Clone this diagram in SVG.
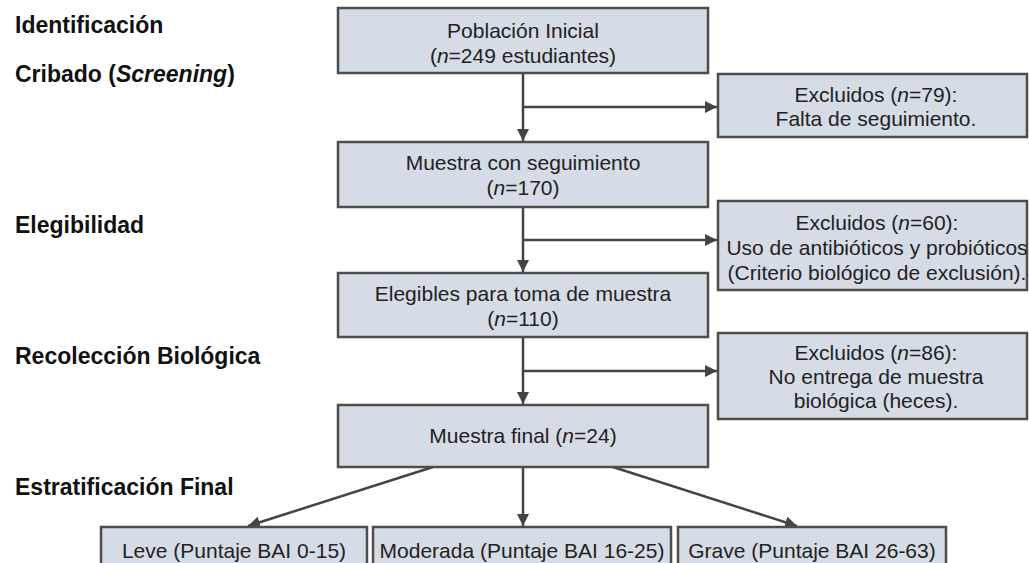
<svg xmlns="http://www.w3.org/2000/svg" width="1029" height="563" viewBox="0 0 1029 563">
<defs>
<style>
.box{fill:#d5dce5;stroke:#4d4d4d;stroke-width:2.5}
.t{font-family:"Liberation Sans",Arial,sans-serif;font-size:21px;fill:#222;text-anchor:middle}
.lbl{font-family:"Liberation Sans",Arial,sans-serif;font-size:23px;font-weight:bold;fill:#111}
.c{stroke:#444;stroke-width:2.5;fill:none}
</style>
<marker id="ah" viewBox="0 0 10 10" refX="10" refY="5" markerWidth="12" markerHeight="12" markerUnits="userSpaceOnUse" orient="auto">
<path d="M0,0 L10,5 L0,10 Z" fill="#444"/>
</marker>
</defs>
<rect width="1029" height="563" fill="#ffffff"/>

<g id="labels">
<text class="lbl" x="15" y="33">Identificación</text>
<text class="lbl" x="15" y="82">Cribado (<tspan font-style="italic">Screening</tspan>)</text>
<text class="lbl" x="15" y="233">Elegibilidad</text>
<text class="lbl" x="15" y="364">Recolección Biológica</text>
<text class="lbl" x="15" y="495">Estratificación Final</text>
</g>

<g id="connectors">
<line class="c" x1="523" y1="73" x2="523" y2="141" marker-end="url(#ah)"/>
<line class="c" x1="523" y1="107" x2="717" y2="107" marker-end="url(#ah)"/>
<line class="c" x1="523" y1="207" x2="523" y2="272" marker-end="url(#ah)"/>
<line class="c" x1="523" y1="240" x2="717" y2="240" marker-end="url(#ah)"/>
<line class="c" x1="523" y1="337" x2="523" y2="404" marker-end="url(#ah)"/>
<line class="c" x1="523" y1="371" x2="717" y2="371" marker-end="url(#ah)"/>
<line class="c" x1="433" y1="467" x2="248" y2="526" marker-end="url(#ah)"/>
<line class="c" x1="523" y1="467" x2="523" y2="526" marker-end="url(#ah)"/>
<line class="c" x1="613" y1="467" x2="797" y2="526" marker-end="url(#ah)"/>
</g>

<g id="n1">
<rect class="box" x="338" y="8" width="370" height="65"/>
<text class="t" x="523" y="38">Población Inicial</text>
<text class="t" x="523" y="63">(<tspan font-style="italic">n</tspan>=249 estudiantes)</text>
</g>
<g id="n2">
<rect class="box" x="338" y="142" width="370" height="65"/>
<text class="t" x="523" y="170">Muestra con seguimiento</text>
<text class="t" x="523" y="195">(<tspan font-style="italic">n</tspan>=170)</text>
</g>
<g id="n3">
<rect class="box" x="338" y="273" width="370" height="64"/>
<text class="t" x="523" y="301">Elegibles para toma de muestra</text>
<text class="t" x="523" y="326">(<tspan font-style="italic">n</tspan>=110)</text>
</g>
<g id="n4">
<rect class="box" x="338" y="405" width="370" height="62"/>
<text class="t" x="523" y="443">Muestra final (<tspan font-style="italic">n</tspan>=24)</text>
</g>

<g id="e1">
<rect class="box" x="718" y="74" width="309" height="63"/>
<text class="t" x="876" y="102">Excluidos (<tspan font-style="italic">n</tspan>=79):</text>
<text class="t" x="876" y="126">Falta de seguimiento.</text>
</g>
<g id="e2">
<rect class="box" x="718" y="201" width="309" height="89"/>
<text class="t" x="877" y="230">Excluidos (<tspan font-style="italic">n</tspan>=60):</text>
<text class="t" x="877" y="255">Uso de antibióticos y probióticos</text>
<text class="t" x="877" y="280">(Criterio biológico de exclusión).</text>
</g>
<g id="e3">
<rect class="box" x="718" y="333" width="309" height="86"/>
<text class="t" x="876" y="360">Excluidos (<tspan font-style="italic">n</tspan>=86):</text>
<text class="t" x="876" y="384">No entrega de muestra</text>
<text class="t" x="876" y="408">biológica (heces).</text>
</g>

<g id="s1">
<rect class="box" x="101" y="527" width="266" height="50"/>
<text class="t" x="234" y="558">Leve (Puntaje BAI 0-15)</text>
</g>
<g id="s2">
<rect class="box" x="373" y="527" width="298" height="50"/>
<text class="t" x="522" y="558">Moderada (Puntaje BAI 16-25)</text>
</g>
<g id="s3">
<rect class="box" x="678" y="527" width="268" height="50"/>
<text class="t" x="812" y="558">Grave (Puntaje BAI 26-63)</text>
</g>
</svg>
